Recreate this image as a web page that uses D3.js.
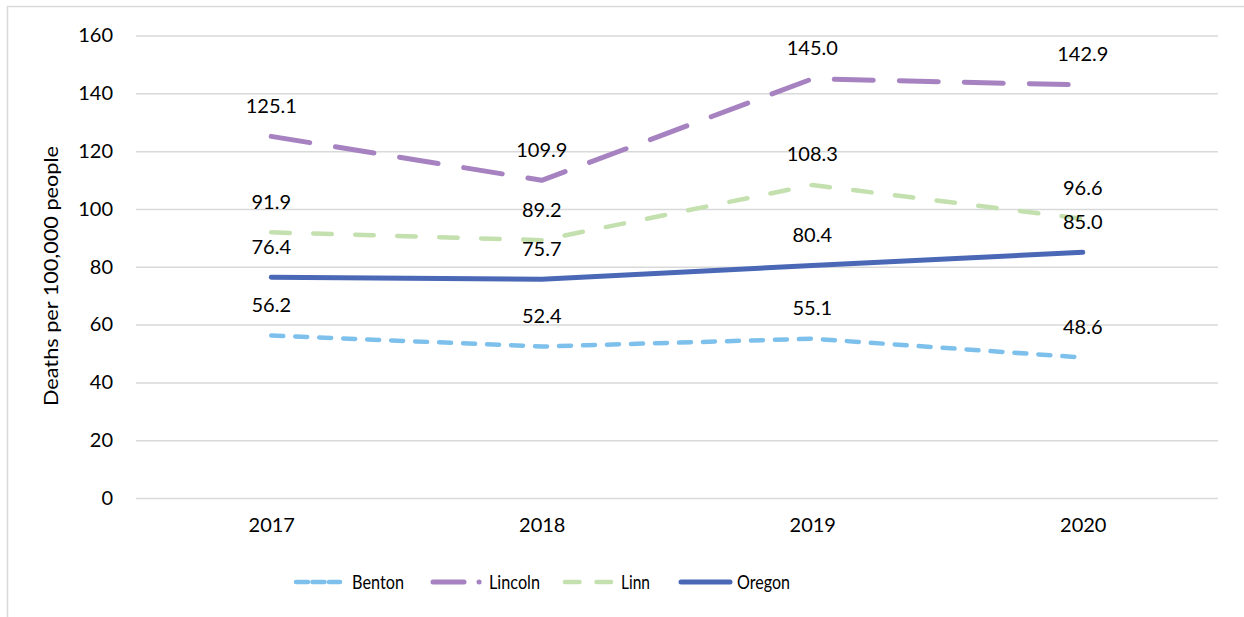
<!DOCTYPE html>
<html>
<head>
<meta charset="utf-8">
<script src="https://cdn.jsdelivr.net/npm/d3@7"></script>
<style>
  html, body { margin: 0; padding: 0; background: #fff; }
  svg { display: block; }
  text { font-family: Lato, "Open Sans", sans-serif; fill: #000; }
</style>
</head>
<body>
<svg id="chart" width="1244" height="617"></svg>
<script>
// Deaths per 100,000 people, by county and state
const years = ["2017", "2018", "2019", "2020"];
const benton = [56.2, 52.4, 55.1, 48.6];
const lincoln = [125.1, 109.9, 145.0, 142.9];
const linn = [91.9, 89.2, 108.3, 96.6];
const oregon = [76.4, 75.7, 80.4, 85.0];
const yTicks = [0, 20, 40, 60, 80, 100, 120, 140, 160];

const seriesList = [
  { name: "Benton", values: benton, color: "#7dc0eb", width: 4.5, dash: "12,12", legendDash: "12,4.5", labelW: 52 },
  { name: "Lincoln", values: lincoln, color: "#a682c1", width: 5, dash: "39,26", legendDash: "31,15,0.1,20", labelW: 51 },
  { name: "Linn", values: linn, color: "#c3e0ae", width: 4.5, dash: "18.5,23.5", legendDash: "14.5,17", labelW: 29 },
  { name: "Oregon", values: oregon, color: "#4a68b6", width: 5, dash: null, legendDash: null, labelW: 53 }
];

const svg = d3.select("#chart");
const plot = { left: 136, right: 1218, top: 35.5, bottom: 498 };

// chart frame
svg.append("rect")
  .attr("x", 7.5).attr("y", 6.5)
  .attr("width", 1240).attr("height", 620)
  .attr("fill", "none").attr("stroke", "#d9d9d9").attr("stroke-width", 1.5);

const x = d3.scalePoint().domain(years).range([plot.left, plot.right]).padding(0.5);
const y = d3.scaleLinear().domain([0, 160]).range([plot.bottom, plot.top]);

// horizontal gridlines and y tick labels
const yAxis = d3.axisLeft(y).tickValues(yTicks).tickSize(-(plot.right - plot.left)).tickPadding(23);
const gy = svg.append("g").attr("transform", `translate(${plot.left},0)`).call(yAxis);
gy.select(".domain").remove();
gy.selectAll(".tick line").attr("stroke", "#d9d9d9").attr("stroke-width", 1.5);
gy.selectAll(".tick text").attr("font-size", 20).attr("font-family", "Lato, 'Open Sans', sans-serif").attr("fill", "#000");

// x axis labels
const xAxis = d3.axisBottom(x).tickSize(0).tickPadding(20);
const gx = svg.append("g").attr("transform", `translate(0,${plot.bottom})`).call(xAxis);
gx.select(".domain").remove();
gx.selectAll(".tick text").attr("font-size", 20).attr("font-family", "Lato, 'Open Sans', sans-serif").attr("fill", "#000");

// y axis title
svg.append("text")
  .attr("transform", `translate(58,276) rotate(-90)`)
  .attr("text-anchor", "middle")
  .attr("font-size", 20)
  .attr("textLength", 260)
  .attr("lengthAdjust", "spacingAndGlyphs")
  .text("Deaths per 100,000 people");

const line = d3.line().x((d, i) => x(years[i])).y(d => y(d));

// series lines
seriesList.forEach(s => {
  svg.append("path")
    .datum(s.values)
    .attr("d", line)
    .attr("fill", "none")
    .attr("stroke", s.color)
    .attr("stroke-width", s.width)
    .attr("stroke-linecap", "round")
    .attr("stroke-linejoin", "round")
    .attr("stroke-dasharray", s.dash);
});

// value labels above each point
seriesList.forEach(s => {
  svg.append("g").selectAll("text")
    .data(s.values)
    .join("text")
    .attr("x", (d, i) => x(years[i]))
    .attr("y", d => y(d) - 23.5)
    .attr("text-anchor", "middle")
    .attr("font-size", 20)
    .text(d => d.toFixed(1));
});

// legend
const legendItems = [
  { s: seriesList[0], x0: 296, x1: 340, tx: 352 },
  { s: seriesList[1], x0: 433, x1: 482, tx: 489 },
  { s: seriesList[2], x0: 565, x1: 611, tx: 621 },
  { s: seriesList[3], x0: 681, x1: 730, tx: 737 }
];
const ly = 582;
const lg = svg.append("g");
legendItems.forEach(it => {
  lg.append("line")
    .attr("x1", it.x0).attr("x2", it.x1)
    .attr("y1", ly).attr("y2", ly)
    .attr("stroke", it.s.color)
    .attr("stroke-width", it.s.width)
    .attr("stroke-linecap", "round")
    .attr("stroke-dasharray", it.s.legendDash);
  lg.append("text")
    .attr("x", it.tx).attr("y", ly + 7)
    .attr("font-size", 20)
    .attr("textLength", it.s.labelW)
    .attr("lengthAdjust", "spacingAndGlyphs")
    .text(it.s.name);
});
</script>
</body>
</html>
